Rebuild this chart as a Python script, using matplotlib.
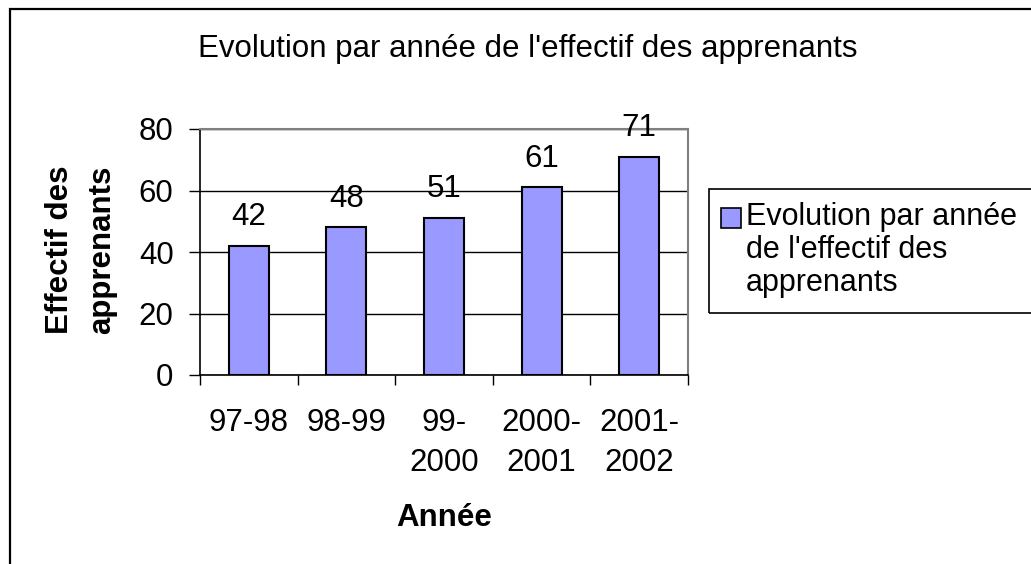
import matplotlib
matplotlib.use("Agg")
import matplotlib.pyplot as plt
from matplotlib.patches import Rectangle

# Data
years = ["97-98", "98-99", "99-\n2000", "2000-\n2001", "2001-\n2002"]
effectifs = [42, 48, 51, 61, 71]
y_ticks = [0, 20, 40, 60, 80]
title = "Evolution par année de l'effectif des apprenants"
series_name = "Evolution par année\nde l'effectif des\napprenants"
x_label = "Année"
y_label = "Effectif des\napprenants"

W, H = 1031, 564
plt.rcParams['font.family'] = ['Liberation Sans', 'DejaVu Sans']
FS = 22.5
BAR_COLOR = '#9999FF'


def fx(px):
    return px / W


def fy(py):
    return 1 - py / H


fig = plt.figure(figsize=(W / 100, H / 100), dpi=100)
fig.patch.set_facecolor('white')

# Outer chart border (only top and left edges fall inside the canvas)
fig.patches.append(Rectangle((fx(9.5), fy(600)), 1.2, fy(9) - fy(600),
                             transform=fig.transFigure, fill=False,
                             ec='black', lw=1.6))

ax = fig.add_axes([fx(200), fy(375), fx(688) - fx(200), fy(129) - fy(375)])
x = list(range(len(years)))
bars = ax.bar(x, effectifs, width=0.41, color=BAR_COLOR, edgecolor='black',
              linewidth=1.5, zorder=3)

ax.set_xlim(-0.5, len(years) - 0.5)
ax.set_ylim(0, 80)
ax.set_yticks(y_ticks)
ax.set_yticklabels([str(v) for v in y_ticks], fontsize=FS)
ax.yaxis.grid(True, color='black', linewidth=1.0)
ax.set_axisbelow(True)

# Category labels centred under bars, tick marks on category boundaries
ax.set_xticks(x)
ax.set_xticklabels(years, fontsize=FS, linespacing=1.46)
ax.tick_params(axis='x', which='major', length=0, pad=23.5)
ax.set_xticks([i - 0.5 for i in range(len(years) + 1)], minor=True)
ax.tick_params(axis='x', which='minor', length=7.5, width=1, color='black')
ax.tick_params(axis='y', length=8, width=1, pad=11)

for side in ('top', 'right'):
    ax.spines[side].set_color('#808080')
    ax.spines[side].set_linewidth(1.5)
for side in ('left', 'bottom'):
    ax.spines[side].set_color('black')
    ax.spines[side].set_linewidth(1.2)

# Value labels above the bars
for xi, v in zip(x, effectifs):
    ax.annotate(str(v), (xi, v), xytext=(0, 15), textcoords='offset points',
                ha='center', va='baseline', fontsize=FS, zorder=4)

ax.set_xlabel(x_label, fontsize=FS, fontweight='bold')
ax.xaxis.set_label_coords(0.5, (375 - 503) / 246)
ax.set_ylabel(y_label, fontsize=FS, fontweight='bold', linespacing=1.5)
ax.yaxis.set_label_coords((117 - 200) / 488, (375 - 250) / 246)

fig.text(fx(528), fy(57), title, ha='center', va='baseline', fontsize=FS)

# Legend box
fig.patches.append(Rectangle((fx(709), fy(313)), 1.0, fy(189) - fy(313),
                             transform=fig.transFigure, fill=False,
                             ec='black', lw=1.2))
fig.patches.append(Rectangle((fx(721), fy(228)), fx(741) - fx(721),
                             fy(208) - fy(228), transform=fig.transFigure,
                             fc=BAR_COLOR, ec='black', lw=1.2))
# multi-line text: the baseline anchor is the last line
fig.text(fx(746), fy(291), series_name, ha='left', va='baseline',
         fontsize=22, linespacing=1.13)

fig.savefig('out.png', dpi=100)
